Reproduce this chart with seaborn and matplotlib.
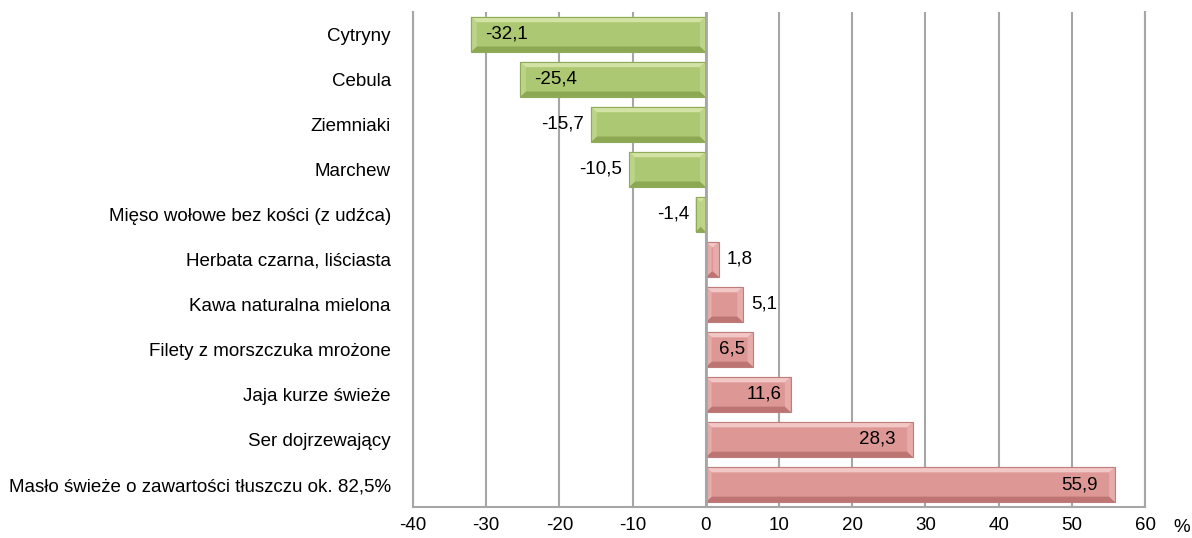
import pandas as pd
import seaborn as sns
import matplotlib.pyplot as plt
from matplotlib.patches import Polygon

# %% data
products = ['Cytryny', 'Cebula', 'Ziemniaki', 'Marchew',
            'Mięso wołowe bez kości (z udźca)', 'Herbata czarna, liściasta',
            'Kawa naturalna mielona', 'Filety z morszczuka mrożone',
            'Jaja kurze świeże', 'Ser dojrzewający',
            'Masło świeże o zawartości tłuszczu ok. 82,5%']
change = [-32.1, -25.4, -15.7, -10.5, -1.4, 1.8, 5.1, 6.5, 11.6, 28.3, 55.9]
x_ticks = [-40, -30, -20, -10, 0, 10, 20, 30, 40, 50, 60]

# label inside the bar end or outside
label_inside = [True, True, False, False, False, False, False, True, True, True, True]

df = pd.DataFrame({'product': products, 'change': change})

# %% style
sns.set_style('white')
plt.rcParams['font.family'] = ['Liberation Sans', 'DejaVu Sans']
plt.rcParams['axes.unicode_minus'] = False
plt.rcParams['text.color'] = 'black'
plt.rcParams['xtick.color'] = 'black'
plt.rcParams['ytick.color'] = 'black'

GREEN = {'face': '#ADC872', 'light': '#D3E3A6', 'dark': '#8CA852', 'side': '#BCD488', 'edge': '#8FAA58'}
RED = {'face': '#DD9896', 'light': '#F2C8C6', 'dark': '#BC7573', 'side': '#E6ACAA', 'edge': '#BE7C7A'}
GRID = '#A6A6A6'
FS = 13.5

fig = plt.figure(figsize=(11.92, 5.38), dpi=100)
ax = fig.add_axes([0.3465, 0.0576, 0.6141, 0.9204])

palette = {p: (GREEN if v < 0 else RED)['face'] for p, v in zip(products, change)}
sns.barplot(data=df, x='change', y='product', hue='product', palette=palette,
            legend=False, orient='h', width=0.78, ax=ax, zorder=3,
            edgecolor='none', saturation=1)

# bevel look
bars = list(ax.patches)
for bar, v in zip(bars, change):
    c = GREEN if v < 0 else RED
    x0, y0 = bar.get_x(), bar.get_y()
    w, h = bar.get_width(), bar.get_height()
    x1, y1 = x0 + w, y0 + h
    xa, xb = min(x0, x1), max(x0, x1)
    bx = min(0.8, (xb - xa) / 2)
    by = 0.12
    polys = [
        ([(xa, y0), (xb, y0), (xb - bx, y0 + by), (xa + bx, y0 + by)], c['light']),
        ([(xa, y1), (xb, y1), (xb - bx, y1 - by), (xa + bx, y1 - by)], c['dark']),
        ([(xa, y0), (xa + bx, y0 + by), (xa + bx, y1 - by), (xa, y1)], c['side']),
        ([(xb, y0), (xb - bx, y0 + by), (xb - bx, y1 - by), (xb, y1)], c['side']),
    ]
    for pts, col in polys:
        ax.add_patch(Polygon(pts, closed=True, facecolor=col, edgecolor='none', zorder=4))
    ax.add_patch(Polygon([(xa, y0), (xb, y0), (xb, y1), (xa, y1)], closed=True,
                         facecolor='none', edgecolor=c['edge'], lw=0.8, zorder=5))

# value labels
for i, (v, inside) in enumerate(zip(change, label_inside)):
    txt = f'{v:.1f}'.replace('.', ',')
    if v < 0:
        if inside:
            ax.text(v + 2.0, i, txt, ha='left', va='center', fontsize=FS, zorder=6)
        else:
            ax.text(v - 0.9, i, txt, ha='right', va='center', fontsize=FS, zorder=6)
    else:
        if inside:
            pad = 1.2 if v < 20 else 2.4
            ax.text(v - pad, i, txt, ha='right', va='center', fontsize=FS, zorder=6)
        else:
            ax.text(v + 1.1, i, txt, ha='left', va='center', fontsize=FS, zorder=6)

# %% axes
ax.set_xlim(-40, 60)
ax.set_ylim(10.5, -0.5)
ax.set_xticks(x_ticks)
ax.set_xticklabels([str(t) for t in x_ticks])
ax.set_xlabel('')
ax.set_ylabel('')
ax.tick_params(axis='x', labelsize=FS, length=0, pad=7)
ax.tick_params(axis='y', labelsize=FS, length=0, pad=16)
ax.grid(axis='x', color=GRID, lw=1.5, zorder=0)
ax.axvline(0, color=GRID, lw=2, zorder=5)
for side in ['left', 'bottom', 'right']:
    ax.spines[side].set_visible(True)
    ax.spines[side].set_color(GRID)
    ax.spines[side].set_linewidth(1.5)
ax.spines['top'].set_visible(False)
ax.text(1.05, -0.0404, '%', transform=ax.transAxes, ha='center', va='center', fontsize=FS)

fig.savefig('out.png', dpi=100)
